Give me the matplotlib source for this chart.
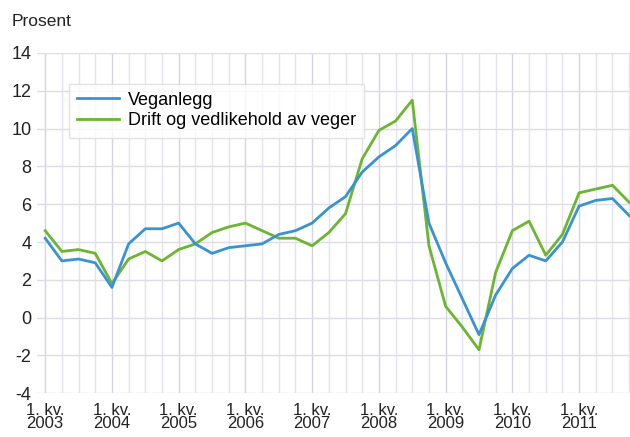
import matplotlib
matplotlib.use("Agg")
import matplotlib.pyplot as plt
import numpy as np

plt.rcParams['font.family'] = ['Liberation Sans', 'DejaVu Sans']

years = ["2003", "2004", "2005", "2006", "2007", "2008", "2009", "2010", "2011"]

veganlegg = [4.2, 3.0, 3.1, 2.9, 1.6, 3.9, 4.7, 4.7,
             5.0, 3.9, 3.4, 3.7, 3.8, 3.9, 4.4, 4.6,
             5.0, 5.8, 6.4, 7.7, 8.5, 9.1, 10.0, 5.0,
             2.9, 1.0, -0.9, 1.2, 2.6, 3.3, 3.0, 4.0,
             5.9, 6.2, 6.3, 5.4]

drift = [4.6, 3.5, 3.6, 3.4, 1.8, 3.1, 3.5, 3.0,
         3.6, 3.9, 4.5, 4.8, 5.0, 4.6, 4.2, 4.2,
         3.8, 4.5, 5.5, 8.4, 9.9, 10.4, 11.5, 3.8,
         0.6, -0.5, -1.7, 2.4, 4.6, 5.1, 3.3, 4.4,
         6.6, 6.8, 7.0, 6.1]

blue = "#3a93d1"
green = "#6cb530"
text_c = "#222222"

fig = plt.figure(figsize=(6.3, 4.37), dpi=100)
ax = fig.add_axes([0.059, 0.1, 0.941, 0.779])

x = np.arange(len(veganlegg))

# quarter grid, year grid a bit darker
for q in x:
    c = "#d3d5e0" if q % 4 == 0 else "#e3e4ec"
    ax.axvline(q, color=c, linewidth=1.0, zorder=0)
for yv in range(-4, 15, 2):
    ax.axhline(yv, color="#dcdde6", linewidth=1.0, zorder=0)

ax.plot(x, veganlegg, color=blue, linewidth=2.0, label="Veganlegg", zorder=3)
ax.plot(x, drift, color=green, linewidth=2.0, label="Drift og vedlikehold av veger", zorder=2)

ax.set_xlim(-0.48, 35.05)
ax.set_ylim(-4, 14)
ax.set_yticks(range(-4, 15, 2))
ax.set_yticklabels([str(v) for v in range(-4, 15, 2)], fontsize=13, color=text_c)
ax.set_xticks(x[::4])
ax.set_xticklabels(["1. kv.\n" + y for y in years], fontsize=12, color=text_c,
                   linespacing=0.82)
ax.tick_params(axis="y", length=0, pad=4)
ax.tick_params(axis="x", length=0, pad=7)
for s in ax.spines.values():
    s.set_visible(False)

leg = ax.legend(loc="upper left", bbox_to_anchor=(0.039, 0.936), fontsize=13,
                frameon=True, fancybox=False, handlelength=2.3, borderpad=0.45,
                labelspacing=0.2, handletextpad=0.5)
leg.get_frame().set_edgecolor("#dddddd")
leg.get_frame().set_linewidth(1.0)

fig.text(0.018, 0.95, "Prosent", fontsize=12.5, color=text_c, va="center")

fig.savefig("out.png", dpi=100)
